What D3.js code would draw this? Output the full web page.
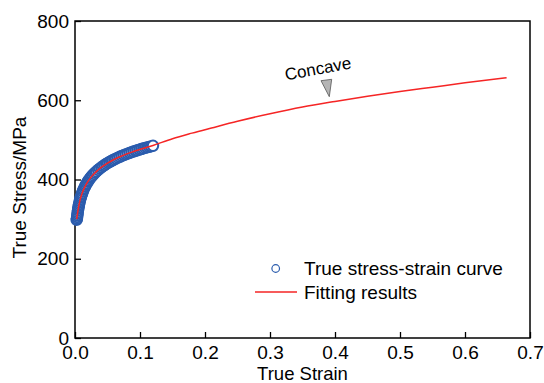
<!DOCTYPE html>
<html>
<head>
<meta charset="utf-8">
<script src="https://cdn.jsdelivr.net/npm/d3@7"></script>
<style>
  body { margin: 0; background: #fff; }
  svg { display: block; font-family: "Liberation Sans", Arial, sans-serif; }
</style>
</head>
<body>
<script>
let dataStrain = [0.0025, 0.003, 0.0033, 0.0036, 0.0039, 0.0042, 0.0046, 0.005, 0.0054, 0.0058, 0.0063, 0.0068,
  0.0074, 0.008, 0.0087, 0.0094, 0.0102, 0.011, 0.012, 0.013, 0.0142, 0.0155, 0.0168, 0.0182, 0.0196,
  0.021, 0.0225, 0.024, 0.0256, 0.0272, 0.029, 0.031, 0.033, 0.0355, 0.038, 0.0405, 0.043, 0.0455,
  0.048, 0.0505, 0.053, 0.0555, 0.058, 0.0605, 0.063, 0.066, 0.069, 0.072, 0.075, 0.078, 0.081,
  0.084, 0.087, 0.09, 0.093, 0.096, 0.099, 0.102, 0.105, 0.108, 0.111, 0.114, 0.117, 0.12];
let dataStress = [298, 301, 305.3, 309.7, 313.7, 317.4, 321.9, 326.1, 329.9, 333.5, 337.6, 341.5,
  345.7, 349.6, 353.8, 357.6, 361.7, 365.5, 369.9, 373.9, 378.3, 382.6, 386.7, 390.7, 394.4,
  397.8, 401.3, 404.5, 407.7, 410.8, 414.0, 417.3, 420.4, 424.1, 427.5, 430.7, 433.7, 436.5,
  439.2, 441.7, 444.1, 446.4, 448.6, 450.7, 452.8, 455.1, 457.3, 459.4, 461.5, 463.4, 465.3,
  467.2, 468.9, 470.6, 472.2, 473.8, 475.4, 476.9, 478.3, 479.7, 481.1, 482.4, 483.7, 485.0];

// fitted curve
let fitStrain = [0.0026, 0.005, 0.008, 0.012, 0.018, 0.025, 0.035, 0.05, 0.07, 0.09, 0.12, 0.15, 0.18,
  0.21, 0.25, 0.3, 0.35, 0.4, 0.45, 0.5, 0.55, 0.6, 0.664];
let fitStress = [300, 326, 350, 370, 390, 406.6, 423.4, 441.2, 458, 470.6, 486, 503, 517,
  530, 547, 566, 583, 597, 610, 622, 633, 644, 657];

let xTicks = [0, 0.1, 0.2, 0.3, 0.4, 0.5, 0.6, 0.7];
let yTicks = [0, 200, 400, 600, 800];

let width = 544, height = 383;
let margin = { left: 75, right: 14, top: 21, bottom: 45 };

let svg = d3.select("body").append("svg")
  .attr("width", width)
  .attr("height", height);

let x = d3.scaleLinear().domain([0, 0.7]).range([margin.left, width - margin.right]);
let y = d3.scaleLinear().domain([0, 800]).range([height - margin.bottom, margin.top]);

// axes with inward ticks
let xAxis = svg.append("g")
  .attr("transform", `translate(0,${y(0)})`)
  .call(d3.axisBottom(x).tickValues(xTicks).tickFormat(d3.format(".1f"))
    .tickSizeInner(-6).tickSizeOuter(0).tickPadding(8));
let yAxis = svg.append("g")
  .attr("transform", `translate(${x(0)},0)`)
  .call(d3.axisLeft(y).tickValues(yTicks)
    .tickSizeInner(-6).tickSizeOuter(0).tickPadding(6));

[xAxis, yAxis].forEach(g => {
  g.select(".domain").remove();
  g.selectAll("line").attr("stroke", "#000").attr("stroke-width", 1.3);
  g.selectAll("text").attr("font-size", 19).attr("fill", "#000")
    .attr("font-family", "Liberation Sans, Arial, sans-serif");
});

// frame
svg.append("rect")
  .attr("x", x(0)).attr("y", y(800))
  .attr("width", x(0.7) - x(0)).attr("height", y(0) - y(800))
  .attr("fill", "none").attr("stroke", "#000").attr("stroke-width", 1.5);

// data circles
let data = dataStrain.map((d, i) => ({ e: d, s: dataStress[i] }));
svg.append("g")
  .selectAll("circle")
  .data(data)
  .join("circle")
  .attr("cx", d => x(d.e))
  .attr("cy", d => y(d.s))
  .attr("r", 5.2)
  .attr("fill", "#fff")
  .attr("stroke", "#2b5cad")
  .attr("stroke-width", 2);

// fitted line
let fit = fitStrain.map((d, i) => ({ e: d, s: fitStress[i] }));
svg.append("path")
  .datum(fit)
  .attr("fill", "none")
  .attr("stroke", "#f52525")
  .attr("stroke-width", 1.5)
  .attr("d", d3.line().x(d => x(d.e)).y(d => y(d.s)).curve(d3.curveMonotoneX));

// annotation
svg.append("text")
  .attr("transform", "translate(286,80.5) rotate(-10.5)")
  .attr("font-size", 17)
  .text("Concave");
svg.append("path")
  .attr("d", "M321,80.7 L331.7,79.3 L329.3,96.7 Z")
  .attr("fill", "#b5b5b5")
  .attr("stroke", "#555")
  .attr("stroke-width", 0.8);

// legend
let legend = svg.append("g").attr("font-size", 19);
legend.append("circle")
  .attr("cx", 275.7).attr("cy", 268.5).attr("r", 3.8)
  .attr("fill", "none").attr("stroke", "#2b5cad").attr("stroke-width", 1.2);
legend.append("text").attr("x", 304).attr("y", 275).text("True stress-strain curve");
legend.append("line")
  .attr("x1", 255).attr("x2", 297).attr("y1", 292).attr("y2", 292)
  .attr("stroke", "#f52525").attr("stroke-width", 1.5);
legend.append("text").attr("x", 304).attr("y", 298.5).text("Fitting results");

// axis titles
svg.append("text")
  .attr("x", (x(0) + x(0.7)) / 2).attr("y", 379.5)
  .attr("text-anchor", "middle").attr("font-size", 18.5)
  .text("True Strain");
svg.append("text")
  .attr("transform", `translate(26,${(y(0) + y(800)) / 2 + 8}) rotate(-90)`)
  .attr("text-anchor", "middle").attr("font-size", 19)
  .text("True Stress/MPa");
</script>
</body>
</html>
